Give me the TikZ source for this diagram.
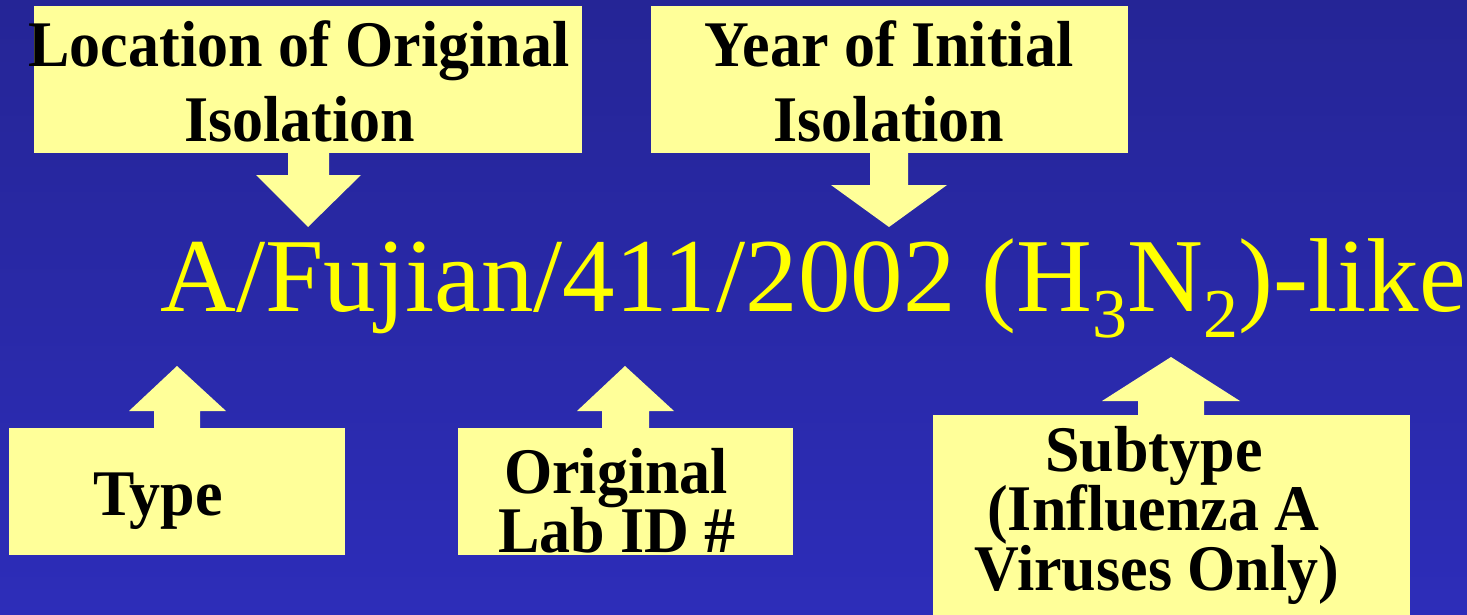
\documentclass[tikz,border=0pt]{standalone}
\usepackage{graphicx}
\usepackage{fontspec}
\setmainfont{Liberation Serif}
\definecolor{bgtop}{RGB}{37,37,150}
\definecolor{bgmid}{RGB}{51,51,200}
\definecolor{bgbot}{RGB}{45,45,185}
\definecolor{boxc}{RGB}{255,255,153}
\definecolor{maintxt}{RGB}{255,255,0}
\tikzset{
  box/.style={fill=boxc, draw=none, inner sep=0pt, outer sep=0pt},
  lbl/.style={inner sep=0pt, anchor=base, text=black, font=\fontsize{62}{62}\selectfont\bfseries},
  arr/.style={fill=boxc, draw=none},
  mainlbl/.style={inner sep=0pt, anchor=base west, text=maintxt, font=\fontsize{105}{105}\selectfont}
}
\newcommand{\subsc}[1]{\raisebox{-26pt}{\fontsize{70}{70}\selectfont #1}}
\newcommand{\tallt}[1]{\scalebox{1}[1.05]{#1}}
\begin{document}
\begin{tikzpicture}[x=1pt,y=-1pt]
\useasboundingbox (0,0) rectangle (1467,615);
\shade[top color=bgtop, middle color=bgmid, bottom color=bgbot] (0,0) rectangle (1467,615);

% top boxes
\node[box, minimum width=548pt, minimum height=147pt] (locbox) at (308,79.5) {};
\node[box, minimum width=477pt, minimum height=147pt] (yearbox) at (889.5,79.5) {};
% bottom boxes
\node[box, minimum width=336pt, minimum height=127pt] (typebox) at (177,491.5) {};
\node[box, minimum width=335pt, minimum height=127pt] (labbox) at (625.5,491.5) {};
\node[box, minimum width=477pt, minimum height=200pt] (subbox) at (1171.5,515) {};

% block arrows
\coordinate (loctip) at (308,227);
\fill[arr] (288,153) -- (288,175) -- (256,175) -- (loctip) -- (361,175) -- (329,175) -- (329,153) -- cycle;
\coordinate (yeartip) at (889,227);
\fill[arr] (870,153) -- (870,185) -- (831,185) -- (yeartip) -- (947,185) -- (908,185) -- (908,153) -- cycle;
\coordinate (typetip) at (177,366);
\fill[arr] (154,428) -- (154,411) -- (129,411) -- (typetip) -- (226,411) -- (200,411) -- (200,428) -- cycle;
\coordinate (labtip) at (625,366);
\fill[arr] (602,428) -- (602,411) -- (577,411) -- (labtip) -- (674,411) -- (649,411) -- (649,428) -- cycle;
\coordinate (subtip) at (1171,357);
\fill[arr] (1138,415) -- (1138,401) -- (1102,401) -- (subtip) -- (1240,401) -- (1204,401) -- (1204,415) -- cycle;

% labels
\node[lbl] (loc1) at (299,67) {\tallt{Location of Original}};
\node[lbl] (loc2) at (299.5,142) {\tallt{Isolation}};
\node[lbl] (year1) at (889,67) {\tallt{Year of Initial}};
\node[lbl] (year2) at (889,142) {\tallt{Isolation}};
\node[lbl] (type) at (158,515) {\tallt{Type}};
\node[lbl] (lab1) at (616,493) {\tallt{Original}};
\node[lbl] (lab2) at (617,552) {\tallt{Lab ID \#}};
\node[lbl] (sub1) at (1154,471) {\tallt{Subtype}};
\node[lbl] (sub2) at (1153.5,530) {\tallt{(Influenza A}};
\node[lbl] (sub3) at (1157,590) {\tallt{Viruses Only)}};

% main strain name
\node[mainlbl] (strain) at (160,311) {A/Fujian/411/2002 (H\subsc{3}N\subsc{2})-like};
\end{tikzpicture}
\end{document}
